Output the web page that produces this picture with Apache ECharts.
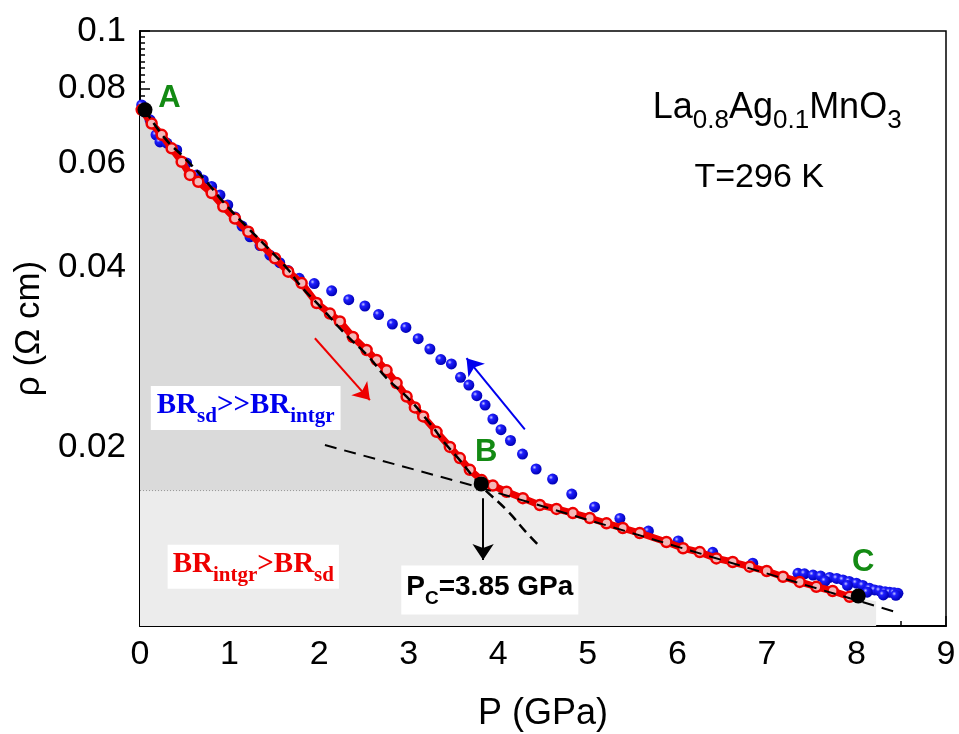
<!DOCTYPE html>
<html>
<head>
<meta charset="utf-8">
<script src="https://cdn.jsdelivr.net/npm/echarts@6/dist/echarts.min.js"></script>
<style>
  html, body { margin: 0; padding: 0; background: #fff; }
  #chart { width: 959px; height: 734px; }
</style>
</head>
<body>
<div id="chart"></div>
<script>
// compression run (red), P in GPa, rho in Ohm cm
const redP = [0.019, 0.130, 0.242, 0.353, 0.465, 0.558, 0.651, 0.800, 0.930, 1.060, 1.209, 1.358, 1.507, 1.655, 1.805,
    1.972, 2.121, 2.232, 2.377, 2.530, 2.642, 2.753, 2.865, 2.977, 3.069, 3.162, 3.311, 3.460,
    3.571, 3.683, 3.814, 3.940, 4.093, 4.275, 4.464, 4.650, 4.833, 5.022, 5.209, 5.391, 5.580, 5.878,
    6.064, 6.250, 6.436, 6.618, 6.808, 6.998, 7.180, 7.366, 7.552, 7.734, 7.924]
const redRho = [0.0737, 0.0699, 0.0669, 0.0635, 0.0603, 0.0573, 0.0558, 0.0534, 0.0507, 0.0484, 0.0460, 0.0437, 0.0415, 0.0394, 0.0377,
    0.0349, 0.0335, 0.0325, 0.0306, 0.0291, 0.0280, 0.0269, 0.0256, 0.0243, 0.0233, 0.0225, 0.0212, 0.0200,
    0.01915, 0.0183, 0.01759, 0.01722, 0.01681, 0.01640, 0.01597, 0.01573, 0.01548, 0.01519, 0.01488, 0.01461, 0.01433, 0.01384,
    0.01351, 0.01331, 0.01299, 0.01281, 0.01258, 0.01237, 0.01210, 0.01186, 0.01164, 0.01145, 0.01120]

// decompression run (blue)
const blueP = [0.019, 0.060, 0.112, 0.179, 0.223, 0.300, 0.410, 0.520, 0.633, 0.706, 0.800, 0.893, 0.980, 1.060, 1.140, 1.228, 1.340, 1.451, 1.560,
    1.655, 1.778, 1.945, 2.140, 2.331, 2.511, 2.664, 2.818, 2.969, 3.106, 3.237, 3.359, 3.477, 3.579, 3.672,
    3.761, 3.853, 3.940, 4.031, 4.137, 4.271, 4.423, 4.607, 4.821, 5.076, 5.359, 5.677, 6.010, 6.395, 6.842,
    7.347, 7.420, 7.515, 7.600, 7.701, 7.780, 7.849, 7.920, 7.999, 8.070, 8.147, 8.203, 8.259, 8.320, 8.371, 8.420, 8.463,
    7.650, 7.900, 8.120, 8.300, 8.440]
const blueRho = [0.0751, 0.0730, 0.0709, 0.0669, 0.0651, 0.0648, 0.0631, 0.0600, 0.0573, 0.0562, 0.0548, 0.0530, 0.0510, 0.0487, 0.0470, 0.0451, 0.0436, 0.0420, 0.0408,
    0.03957, 0.03840, 0.03763, 0.03659, 0.03536, 0.03450, 0.03338, 0.03218, 0.03175, 0.03040, 0.02921, 0.02804, 0.02757, 0.02618, 0.02541,
    0.02438, 0.02351, 0.02227, 0.02138, 0.02050, 0.01945, 0.01836, 0.01766, 0.01666, 0.01585, 0.01516, 0.01444, 0.01390, 0.01330, 0.01275,
    0.01226, 0.01224, 0.01218, 0.01213, 0.01207, 0.01202, 0.01195, 0.01188, 0.01180, 0.01170, 0.01157, 0.01150, 0.01146, 0.01142, 0.01139, 0.01137, 0.01135,
    0.01190, 0.01170, 0.01140, 0.01128, 0.01126]

// dashed fits
const fitSteepP = [0.056, 0.279, 0.502, 0.725, 0.930, 1.191, 1.432, 1.655, 1.786, 2.046, 2.288, 2.548, 2.753, 2.977, 3.237, 3.404, 3.571, 3.720, 3.814, 4.093, 4.316, 4.483]
const fitSteepRho = [0.0737, 0.0660, 0.0611, 0.0562, 0.0516, 0.0469, 0.0431, 0.0397, 0.0374, 0.0340, 0.0310, 0.0284, 0.0261, 0.0243, 0.0219, 0.0203, 0.0190, 0.01782, 0.01715, 0.01567, 0.01435, 0.01351]
const fitFlatP = [2.065, 3.758, 5.209, 6.808, 8.426]
const fitFlatRho = [0.02014, 0.01715, 0.01476, 0.01250, 0.01057]

// marked points
const markNames = ['A', 'B', 'C']
const markP = [0.056, 3.81, 8.02]
const markRho = [0.0737, 0.01733, 0.01123]

// shaded regions
const shadeLevel = 0.01689
const shadeEnd = [8.22, 0.0110]

// arrows [from, to]
const redArrow = [[1.953, 0.03045], [2.567, 0.02397]]
const blueArrow = [[4.297, 0.02141], [3.646, 0.02819]]
const pcArrow = [[3.831, 0.01640], [3.831, 0.01291]]

// axes
const xMin = 0, xMax = 9
const yMin = 0.01, yMax = 0.1
const yMajor = [0.02, 0.04, 0.06, 0.08, 0.1]
const yMinorStep = 0.02 / 9
const yMinor = []
for (let k = 5; k < 45; k++) {
    if (k % 9 !== 0) yMinor.push(+(k * yMinorStep).toFixed(6))
}

const SANS = '"Liberation Sans", Arial, sans-serif'
const SERIF = '"Liberation Serif", "Times New Roman", serif'
const GREEN = '#138a13'

const zip = (a, b) => a.map((v, i) => [v, b[i]])

const chart = echarts.init(document.getElementById('chart'))

const blueBall = new echarts.graphic.RadialGradient(0.35, 0.35, 0.65, [
    { offset: 0, color: '#c8c8ff' },
    { offset: 0.3, color: '#1f1fff' },
    { offset: 1, color: '#0000b8' }
])

const annot = (x, y, label) => ({ value: [x, y], label: Object.assign({ opacity: 1 }, label) })

chart.setOption({
    animation: false,
    backgroundColor: '#fff',
    grid: {
        left: 140, right: 13, top: 31, bottom: 108,
        show: true, borderColor: '#000', borderWidth: 1.5,
        backgroundColor: 'transparent',
        outerBoundsMode: 'none'
    },
    xAxis: {
        type: 'value', min: xMin, max: xMax, interval: 1,
        name: 'P (GPa)', nameLocation: 'middle', nameGap: 70,
        nameTextStyle: { fontSize: 36, fontFamily: SANS, color: '#000' },
        axisLine: { lineStyle: { color: '#000', width: 2 } },
        axisTick: { inside: true, length: 10, lineStyle: { color: '#000', width: 1.5 } },
        minorTick: { show: true, splitNumber: 2, length: 5, lineStyle: { color: '#000', width: 1.5 } },
        axisLabel: { fontSize: 34, fontFamily: SANS, color: '#000', margin: 12 },
        splitLine: { show: false }
    },
    yAxis: [{
        type: 'log', logBase: 10, min: yMin, max: yMax,
        name: 'ρ (Ω cm)', nameLocation: 'middle', nameGap: 92,
        nameTextStyle: { fontSize: 35, fontFamily: SANS, color: '#000' },
        axisLine: { lineStyle: { color: '#000', width: 2 } },
        axisTick: { inside: true, length: 10, customValues: yMajor, lineStyle: { color: '#000', width: 1.5 } },
        axisLabel: {
            customValues: yMajor, fontSize: 35, fontFamily: SANS, color: '#000', margin: 14,
            formatter: v => String(+(+v).toPrecision(2))
        },
        splitLine: { show: false }
    }, {
        type: 'log', logBase: 10, min: yMin, max: yMax, position: 'left',
        axisLine: { show: false },
        axisTick: { inside: true, length: 5, customValues: yMinor, lineStyle: { color: '#000', width: 1.5 } },
        axisLabel: { show: false },
        splitLine: { show: false }
    }],
    series: [
        {
            name: 'shade',
            type: 'custom',
            silent: true,
            z: 1,
            clip: true,
            data: [[0, shadeLevel]],
            renderItem: (params, api) => {
                const curve = zip(redP, redRho)
                const light = [[0, redRho[0]], ...curve, shadeEnd, [shadeEnd[0], yMin], [0, yMin]]
                const upper = curve.filter(p => p[1] >= shadeLevel)
                const dark = [[0, redRho[0]], ...upper, [upper[upper.length - 1][0], shadeLevel], [0, shadeLevel]]
                return {
                    type: 'group',
                    children: [
                        { type: 'polygon', shape: { points: light.map(p => api.coord(p)) }, style: { fill: '#ececec' } },
                        { type: 'polygon', shape: { points: dark.map(p => api.coord(p)) }, style: { fill: '#dadada' } }
                    ]
                }
            }
        },
        {
            name: 'level',
            type: 'line',
            z: 2,
            silent: true,
            symbol: 'none',
            data: [[0, shadeLevel], [markP[1], shadeLevel]],
            lineStyle: { color: '#999', width: 1, type: [1, 2] }
        },
        {
            name: 'decompression',
            type: 'scatter',
            z: 3,
            symbol: 'circle',
            symbolSize: 11,
            data: zip(blueP, blueRho),
            itemStyle: { color: blueBall, opacity: 1 }
        },
        {
            name: 'compression',
            type: 'line',
            z: 4,
            symbol: 'circle',
            symbolSize: 10,
            showSymbol: true,
            data: zip(redP, redRho),
            lineStyle: { color: '#ee0000', width: 7 },
            itemStyle: { color: '#f3b8b8', borderColor: '#ee0000', borderWidth: 2.5, opacity: 1 }
        },
        {
            name: 'fit steep',
            type: 'line',
            z: 5,
            symbol: 'none',
            smooth: true,
            data: zip(fitSteepP, fitSteepRho),
            lineStyle: { color: '#000', width: 2.5, type: [10, 6] }
        },
        {
            name: 'fit flat',
            type: 'line',
            z: 5,
            symbol: 'none',
            data: zip(fitFlatP, fitFlatRho),
            lineStyle: { color: '#000', width: 2, type: [12, 8] }
        },
        {
            name: 'arrows',
            type: 'lines',
            coordinateSystem: 'cartesian2d',
            z: 5,
            symbol: ['none', 'arrow'],
            symbolSize: 16,
            data: [
                { coords: redArrow, lineStyle: { color: '#ee0000' } },
                { coords: blueArrow, lineStyle: { color: '#0000ee' } },
                { coords: pcArrow, lineStyle: { color: '#000' } }
            ],
            lineStyle: { width: 2, opacity: 1, curveness: 0 }
        },
        {
            name: 'points',
            type: 'scatter',
            z: 6,
            symbolSize: 15,
            data: zip(markP, markRho),
            itemStyle: { color: '#000', opacity: 1 }
        },
        {
            name: 'labels',
            type: 'scatter',
            z: 7,
            silent: true,
            symbolSize: 1,
            itemStyle: { color: 'transparent', opacity: 1 },
            label: { show: true, position: 'inside', opacity: 1 },
            data: [
                annot(0.329, 0.0770, { formatter: markNames[0], fontSize: 31, fontWeight: 'bold', fontFamily: SANS, color: GREEN }),
                annot(3.867, 0.01957, { formatter: markNames[1], fontSize: 31, fontWeight: 'bold', fontFamily: SANS, color: GREEN }),
                annot(8.075, 0.01281, { formatter: markNames[2], fontSize: 31, fontWeight: 'bold', fontFamily: SANS, color: GREEN }),
                annot(7.115, 0.0731, {
                    formatter: '{m|La}{s|0.8}{m|Ag}{s|0.1}{m|MnO}{s|3}',
                    rich: {
                        m: { fontSize: 36, fontFamily: SANS, color: '#000', verticalAlign: 'top' },
                        s: { fontSize: 26, fontFamily: SANS, color: '#000', verticalAlign: 'top', padding: [18, 0, 0, 0] }
                    }
                }),
                annot(6.914, 0.0566, { formatter: 'T=296 K', fontSize: 34, fontFamily: SANS, color: '#000' }),
                annot(1.180, 0.02325, {
                    formatter: '{m|BR}{s|sd}{m|>>BR}{s|intgr}',
                    backgroundColor: '#fff', padding: [5, 6, 3, 6],
                    rich: {
                        m: { fontSize: 29, fontWeight: 'bold', fontFamily: SERIF, color: '#0000ee', verticalAlign: 'top' },
                        s: { fontSize: 21, fontWeight: 'bold', fontFamily: SERIF, color: '#0000ee', verticalAlign: 'top', padding: [15, 0, 0, 0] }
                    }
                }),
                annot(1.265, 0.01258, {
                    formatter: '{m|BR}{s|intgr}{m|>BR}{s|sd}',
                    backgroundColor: '#fff', padding: [5, 5, 3, 5],
                    rich: {
                        m: { fontSize: 29, fontWeight: 'bold', fontFamily: SERIF, color: '#ee0000', verticalAlign: 'top' },
                        s: { fontSize: 21, fontWeight: 'bold', fontFamily: SERIF, color: '#ee0000', verticalAlign: 'top', padding: [15, 0, 0, 0] }
                    }
                }),
                annot(3.906, 0.01149, {
                    formatter: '{m|P}{s|C}{m|=3.85 GPa}',
                    backgroundColor: '#fff', padding: [8, 5, 6, 5],
                    rich: {
                        m: { fontSize: 28, fontWeight: 'bold', fontFamily: SANS, color: '#000', verticalAlign: 'top' },
                        s: { fontSize: 19, fontWeight: 'bold', fontFamily: SANS, color: '#000', verticalAlign: 'top', padding: [16, 0, 0, 0] }
                    }
                })
            ]
        }
    ]
})
</script>
</body>
</html>
